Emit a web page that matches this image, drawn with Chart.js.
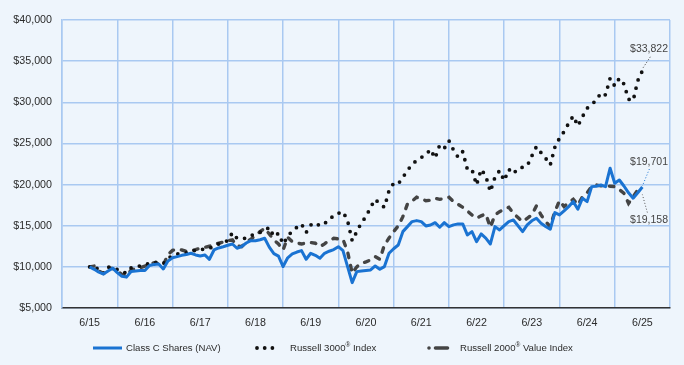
<!DOCTYPE html>
<html>
<head>
<meta charset="utf-8">
<script src="https://cdn.jsdelivr.net/npm/chart.js@4.4.1/dist/chart.umd.min.js"></script>
<style>
    html, body { margin: 0; padding: 0; background: #eef5fc; }
    #wrap { width: 684px; height: 365px; position: relative; }
</style>
</head>
<body>
<div id="wrap"><canvas id="chart"></canvas></div>
<script>
// month index 0 = 6/15 ... 120 = 6/25
const yearLabels = ["6/15", "6/16", "6/17", "6/18", "6/19", "6/20", "6/21", "6/22", "6/23", "6/24", "6/25"];

const classC = [
    10000, 9700, 9350, 9130, 9500, 9840, 9300, 8850, 8750, 9430,
    9500, 9550, 9550, 10160, 10300, 10360, 9750, 10700, 11100, 11240,
    11400, 11500, 11650, 11450, 11330, 11450, 10920, 12050, 12300, 12450,
    12620, 12780, 12260, 12450, 12900, 13180, 13180, 13300, 13470, 12400,
    11600, 11300, 10040, 11100, 11570, 11800, 11970, 10920, 11650, 11400,
    11050, 11650, 11900, 12100, 12450, 11970, 10030, 8080, 9420, 9500,
    9560, 9620, 10110, 9700, 10030, 11650, 12200, 12660, 14280, 14890,
    15500, 15620, 15500, 14970, 15090, 15370, 14810, 15370, 14890, 15100,
    15220, 15220, 13880, 14280, 13060, 14000, 13500, 12780, 14890, 14490,
    15000, 15500, 15700, 15000, 14280, 15100, 15600, 15910, 15300, 14900,
    14570, 16590, 16310, 16800, 17320, 17930, 17000, 18340, 17930, 19750,
    19800, 19950, 19750, 21990, 20160, 20560, 19830, 19000, 18340, 19000,
    19701
];

const russell3000 = [
    10000, 10120, 9600, 9200, 10000, 9850, 9680, 9400, 9260, 9880,
    10000, 10120, 10300, 10400, 10570, 10500, 10400, 11000, 11400, 11550,
    11650, 11700, 11770, 12050, 12050, 12200, 12260, 12500, 12780, 13000,
    13180, 14160, 13470, 13450, 13470, 13800, 14000, 14200, 14400, 14810,
    13670, 14080, 12780, 13670, 14400, 14800, 15220, 14160, 15090, 15370,
    14970, 15300, 15620, 16310, 16500, 16710, 15620, 13180, 14280, 15370,
    16100, 17240, 18210, 17640, 17240, 19260, 20160, 20080, 20890, 21690,
    22500, 22900, 23300, 23600, 24290, 23200, 24810, 24410, 25330, 24200,
    23320, 24000, 21860, 21860, 19950, 21860, 21050, 19140, 20890, 21690,
    20480, 21860, 21300, 21980, 22100, 22260, 23480, 24610, 23880, 23200,
    22380, 24530, 25630, 26430, 27450, 28340, 27120, 28250, 29270, 29800,
    30200, 31170, 30890, 32920, 31980, 32920, 32220, 30370, 30200, 32620,
    33822
];

const russell2000Value = [
    10000, 10100, 9500, 9200, 9900, 9800, 9500, 9100, 8900, 9600,
    9800, 9900, 10100, 10300, 10500, 10400, 10200, 11500, 12000, 12140,
    12050, 11900, 11970, 12100, 12260, 12380, 12500, 12780, 12870, 13000,
    13180, 13270, 12540, 12460, 13000, 13350, 13800, 14280, 14690, 14000,
    13270, 12780, 12050, 13590, 13060, 12900, 12780, 12900, 12950, 12870,
    12450, 12800, 13200, 13470, 13400, 13350, 11850, 9220, 10000, 10440,
    10600, 10840, 11240, 10920, 12660, 13500, 14280, 14970, 16100, 17640,
    18000, 18460, 18300, 18040, 18100, 18340, 18200, 18300, 18460, 17930,
    17600, 17240, 16800, 16300, 15910, 16200, 16430, 14810, 16310, 16710,
    17000, 17240, 16510, 16000, 15500, 15900, 16310, 17400, 16310, 15500,
    14890, 16710, 18040, 17320, 17800, 18210, 17520, 18530, 19000, 19750,
    19950, 19850, 19830, 19800, 19750, 19400, 18940, 17720, 18530, 19350,
    19158
];

const monthIdx = classC.map((_, i) => i);

const gridColor = "#a9c9f1";
const textColor = "#2b2b2b";
const fontName = "'Liberation Sans', Arial, sans-serif";

// legend drawn by hand so the items sit where the original has them
const legendPlugin = {
    id: "customLegend",
    afterDraw(chart) {
        const ctx = chart.ctx;
        const y = 348;
        const items = [
            { x0: 93, x1: 122, tx: 126, parts: ["Class C Shares (NAV)"], color: "#1a73d2", width: 3, dash: [], cap: "butt" },
            { x0: 257, x1: 280, tx: 290, parts: ["Russell 3000", "®", " Index"], color: "#111111", width: 3.8, dash: [0, 7.7], cap: "round" },
            { x0: 429, x1: 454, tx: 460, parts: ["Russell 2000", "®", " Value Index"], color: "#444444", width: 3.6, dash: [0, 6.5, 12, 6.5], cap: "round" },
        ];
        ctx.save();
        items.forEach((it) => {
            ctx.beginPath();
            ctx.strokeStyle = it.color;
            ctx.lineWidth = it.width;
            ctx.lineCap = it.cap;
            ctx.setLineDash(it.dash);
            ctx.moveTo(it.x0, y);
            ctx.lineTo(it.x1, y);
            ctx.stroke();
            ctx.setLineDash([]);
            ctx.fillStyle = textColor;
            ctx.textBaseline = "middle";
            let x = it.tx;
            it.parts.forEach((p) => {
                if (p === "®") {
                    ctx.font = "6.5px " + fontName;
                    ctx.fillText(p, x, y - 3);
                } else {
                    ctx.font = "9.6px " + fontName;
                    ctx.fillText(p, x, y);
                }
                x += ctx.measureText(p).width;
            });
        });
        ctx.restore();
    },
};

// end-of-line value labels with small dotted leaders
const endLabelPlugin = {
    id: "endLabels",
    afterDatasetsDraw(chart) {
        const ctx = chart.ctx;
        const specs = [
            { ds: 1, text: "$33,822", dy: -22, lead: [8, -14, 0, -2], color: "#333333" },
            { ds: 0, text: "$19,701", dy: -25, lead: [7, -18, 0, -1], color: "#1a73d2" },
            { ds: 2, text: "$19,158", dy: 29, lead: [5, 21, 0, 3], color: "#555555" },
        ];
        ctx.save();
        specs.forEach((s) => {
            const pts = chart.getDatasetMeta(s.ds).data;
            const p = pts[pts.length - 1];
            ctx.beginPath();
            ctx.strokeStyle = s.color;
            ctx.lineWidth = 1;
            ctx.setLineDash([1, 2]);
            ctx.moveTo(p.x + s.lead[0], p.y + s.lead[1]);
            ctx.lineTo(p.x + s.lead[2], p.y + s.lead[3]);
            ctx.stroke();
            ctx.setLineDash([]);
            ctx.font = "10.5px " + fontName;
            ctx.fillStyle = "#444444";
            ctx.textAlign = "right";
            ctx.textBaseline = "middle";
            ctx.fillText(s.text, chart.chartArea.right - 2, p.y + s.dy);
        });
        ctx.restore();
    },
};

Chart.defaults.font.family = fontName;
Chart.defaults.font.size = 10.7;
Chart.defaults.color = textColor;

new Chart(document.getElementById("chart").getContext("2d"), {
    type: "line",
    data: {
        labels: monthIdx,
        datasets: [
            {
                label: "Class C Shares (NAV)",
                data: classC,
                borderColor: "#1a73d2",
                borderWidth: 3,
                pointRadius: 0,
                tension: 0,
                borderJoinStyle: "round",
            },
            {
                label: "Russell 3000® Index",
                data: russell3000,
                borderColor: "#111111",
                borderWidth: 3.8,
                borderDash: [0, 8.5],
                borderCapStyle: "round",
                pointRadius: 0,
                tension: 0,
            },
            {
                label: "Russell 2000® Value Index",
                data: russell2000Value,
                borderColor: "#444444",
                borderWidth: 3.4,
                borderDash: [4.5, 8],
                borderCapStyle: "round",
                pointRadius: 0,
                tension: 0,
            },
        ],
    },
    options: {
        responsive: true,
        maintainAspectRatio: false,
        animation: false,
        layout: { padding: { top: 20, right: 14, bottom: 0, left: 0 } },
        plugins: {
            legend: { display: false },
            tooltip: { enabled: false },
        },
        scales: {
            x: {
                type: "linear",
                min: -6,
                max: 126,
                afterBuildTicks: (scale) => {
                    const ticks = [];
                    for (let v = -6; v <= 126; v += 6) ticks.push({ value: v });
                    scale.ticks = ticks;
                },
                afterFit: (scale) => {
                    scale.height = 57;
                },
                grid: {
                    color: (c) => ((c.tick.value + 6) % 12 === 0 ? gridColor : "rgba(0,0,0,0)"),
                    lineWidth: 1.5,
                    drawTicks: false,
                },
                border: { color: "#333333", width: 1.5 },
                ticks: {
                    autoSkip: false,
                    maxRotation: 0,
                    padding: 9,
                    callback: (v) => (v % 12 === 0 && v >= 0 && v <= 120 ? yearLabels[v / 12] : ""),
                },
            },
            y: {
                min: 5000,
                max: 40000,
                afterFit: (scale) => {
                    scale.width = 62;
                },
                grid: {
                    color: gridColor,
                    lineWidth: 1.5,
                    drawTicks: false,
                },
                border: { color: gridColor, width: 1.5 },
                ticks: {
                    stepSize: 5000,
                    padding: 10,
                    callback: (v) => "$" + v.toLocaleString("en-US"),
                },
            },
        },
    },
    plugins: [endLabelPlugin, legendPlugin],
});
</script>
</body>
</html>
